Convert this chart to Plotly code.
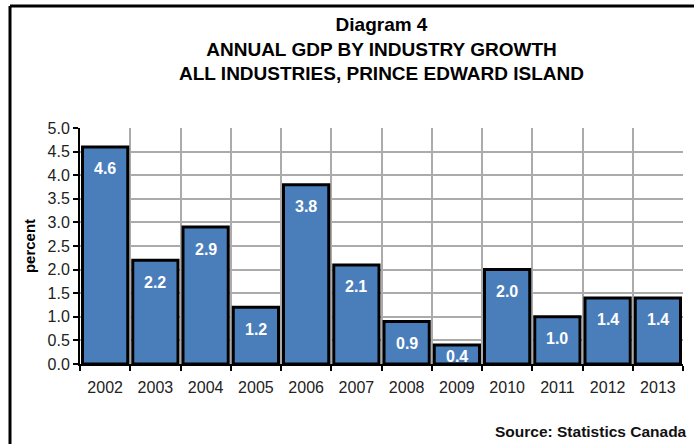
import plotly.graph_objects as go

years = ["2002", "2003", "2004", "2005", "2006", "2007", "2008", "2009", "2010", "2011", "2012", "2013"]
growth = [4.6, 2.2, 2.9, 1.2, 3.8, 2.1, 0.9, 0.4, 2.0, 1.0, 1.4, 1.4]
y_ticks = [0.0, 0.5, 1.0, 1.5, 2.0, 2.5, 3.0, 3.5, 4.0, 4.5, 5.0]

SANS = "Liberation Sans, Arial, sans-serif"

L, R, T, B = 80, 11, 128, 80
W, H = 694, 444
pw, ph = W - L - R, H - T - B
px_per_unit = ph / 5.0

fig = go.Figure()
fig.add_trace(go.Bar(
    x=years, y=growth,
    marker=dict(color="#4A7EBB", line=dict(color="#000000", width=3)),
    hoverinfo="skip",
))

# value labels inside the top of each bar (x given as category index)
label_annotations = []
for i, v in enumerate(growth):
    shift = min(22.0, v * px_per_unit / 2 + 2)
    label_annotations.append(dict(
        x=i, y=v, xref="x", yref="y", text=f"{v:.1f}", showarrow=False,
        yshift=-shift, yanchor="middle",
        font=dict(family=SANS, size=16, color="white", weight="bold"),
    ))

fig.update_layout(
    width=W, height=H,
    margin=dict(l=L, r=R, t=T, b=B),
    paper_bgcolor="white", plot_bgcolor="white",
    bargap=0.1,
    showlegend=False,
    title=dict(
        text="Diagram 4<br>ANNUAL GDP BY INDUSTRY GROWTH<br>ALL INDUSTRIES, PRINCE EDWARD ISLAND",
        x=0.5, xref="paper", xanchor="center",
        y=1 - 31 / H, yref="container", yanchor="top",
        font=dict(family=SANS, size=19, color="#000000", weight="bold"),
    ),
    xaxis=dict(
        type="category", tickson="boundaries", range=[-0.5, 11.5],
        showgrid=True, gridcolor="#ABABAB", gridwidth=2,
        showline=True, linecolor="#000000", linewidth=2,
        ticks="outside", ticklen=5, tickcolor="#000000", tickwidth=2,
        tickfont=dict(family=SANS, size=16, color="#222222"),
        ticklabelstandoff=8,
    ),
    yaxis=dict(
        range=[0, 5], tickvals=y_ticks, ticktext=[f"{v:.1f}" for v in y_ticks],
        showgrid=True, gridcolor="#ABABAB", gridwidth=2,
        showline=True, linecolor="#000000", linewidth=2,
        ticks="outside", ticklen=5, tickcolor="#000000", tickwidth=2,
        tickfont=dict(family=SANS, size=16, color="#222222"),
        zeroline=False,
        title=dict(text="percent", font=dict(family=SANS, size=15, color="#000000", weight="bold"), standoff=8),
    ),
    shapes=[
        dict(type="line", xref="paper", yref="paper",
             x0=(10 - L) / pw, x1=(W + 5 - L) / pw,
             y0=1 + (T - 6) / ph, y1=1 + (T - 6) / ph,
             line=dict(color="#000000", width=3)),
        dict(type="line", xref="paper", yref="paper",
             x0=(10 - L) / pw, x1=(10 - L) / pw,
             y0=1 + (T - 6) / ph, y1=-(B + 5) / ph,
             line=dict(color="#000000", width=3)),
    ],
    annotations=label_annotations + [
        dict(text="Source: Statistics Canada", xref="paper", yref="paper",
             x=(689 - L) / pw, y=-(431 - T - ph) / ph, xanchor="right", yanchor="middle",
             showarrow=False,
             font=dict(family=SANS, size=15.5, color="#111111", weight="bold")),
    ],
)

fig.write_html(
    "out.html",
    config={"displayModeBar": False},
    post_script="document.body.style.margin='0px';document.body.style.overflow='hidden';",
)
